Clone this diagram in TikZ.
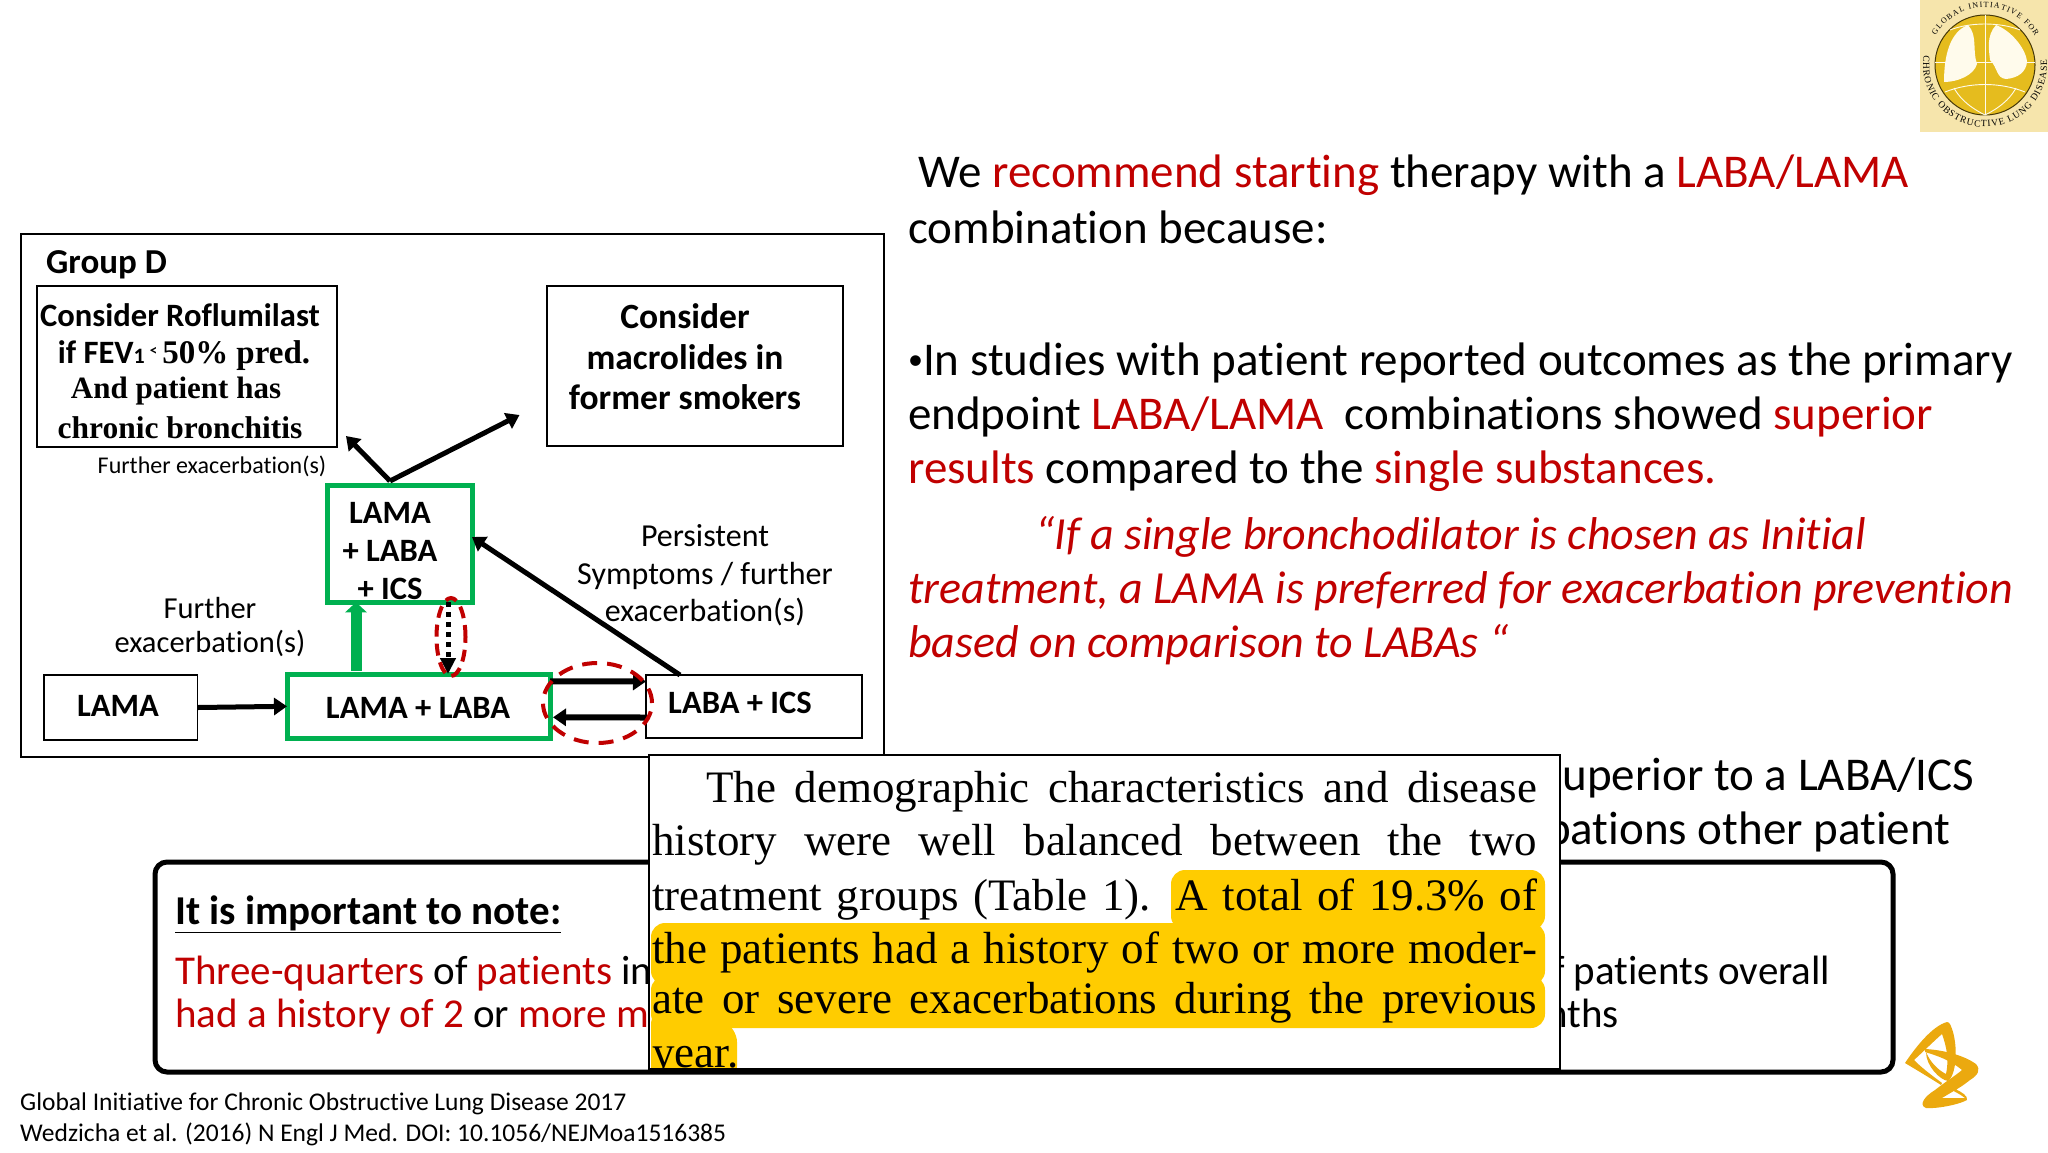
\documentclass[tikz,border=0pt]{standalone}
\usepackage{fontspec}
\setmainfont[Ligatures=NoCommon]{Carlito}
\newfontfamily\paperfont{Liberation Serif}
\usetikzlibrary{arrows.meta, positioning, shapes.geometric, decorations.text}
\definecolor{goldred}{HTML}{C00000}
\definecolor{boxgreen}{HTML}{00B050}
\definecolor{markyellow}{HTML}{FFCC00}
\definecolor{azgold}{HTML}{EBA90F}
\definecolor{logopale}{HTML}{F6E5AC}
\definecolor{logoyellow}{HTML}{E5BC1E}
\definecolor{lungwhite}{HTML}{FFFBEC}
\newcommand{\rd}[1]{\textcolor{goldred}{#1}}
\newcommand{\fs}[1]{\fontsize{#1}{#1}\selectfont}

\begin{document}
\begin{tikzpicture}[x=1pt, y=-1pt,
  plainbox/.style={draw=black, line width=1.8pt, inner sep=0pt, outer sep=0pt},
  greenbox/.style={draw=boxgreen, line width=5pt, inner sep=0pt, outer sep=0pt},
  boxtext/.style={inner sep=0pt, align=center, font=\fs{32.6}\bfseries},
  flowtext/.style={inner sep=0pt, align=center, font=\fs{30.5}},
  bigline/.style={inner sep=0pt, anchor=base west, font=\fs{47}},
  bigitalic/.style={bigline, font=\fs{46}\itshape},
  noteline/.style={inner sep=0pt, anchor=base west, font=\fs{41}},
  paperline/.style={inner sep=0pt, anchor=base west, font=\paperfont\fs{45}},
  markband/.style={fill=markyellow, rounded corners=14pt},
  blackarrow/.style={line width=5pt, -{Triangle[length=13pt,width=17pt]}},
  redring/.style={draw=goldred, line width=4pt, ellipse, inner sep=0pt, outer sep=0pt},
]
\useasboundingbox (0,0) rectangle (2048,1152);
% --- Group D frame ---
\node[plainbox, minimum width=863pt, minimum height=523pt, line width=2.2pt] (frame) at (452.5,495.5) {};
\node[inner sep=0pt, anchor=base west, font=\fs{35}\bfseries] (groupd) at (46,273) {Group D};
\node[plainbox, minimum width=300pt, minimum height=161pt] (roflu) at (187,366.5) {};
\node[inner sep=0pt, font=\fs{32.6}\bfseries] (roflua) at (180,315) {Consider Roflumilast};
\node[inner sep=0pt, font=\fs{32.6}\bfseries] (rofluv) at (184,356) {if FEV\fs{22}1 \raisebox{8pt}{\fs{15}<} \paperfont\fs{33}50\% pred.};
\node[inner sep=0pt, font=\paperfont\fs{31}\bfseries] (roflub) at (176,391) {And patient has};
\node[inner sep=0pt, font=\paperfont\fs{31.5}\bfseries] (rofluc) at (180,428) {chronic bronchitis};
\node[plainbox, minimum width=296.5pt, minimum height=160pt] (macro) at (695,366) {};
\node[boxtext, font=\fs{35.5}\bfseries] (macrot) at (685,357) {Consider\\[5pt]macrolides in\\[5pt]former smokers};
\node[inner sep=0pt, font=\fs{24}] (furthertop) at (212,466) {Further exacerbation(s)};
% --- boxes ---
\node[greenbox, minimum width=145pt, minimum height=116.5pt] (triple) at (399.5,544) {};
\node[boxtext] (triplet) at (390,551) {LAMA\\[5pt]+ LABA\\[5pt]+ ICS};
\node[plainbox, minimum width=153.5pt, minimum height=65pt] (lama) at (120.8,707.5) {};
\node[boxtext] (lamat) at (118,706) {LAMA};
\node[greenbox, minimum width=263pt, minimum height=64.5pt] (dual) at (418.5,706.3) {};
\node[boxtext] (dualt) at (418,708) {LAMA + LABA};
\node[plainbox, minimum width=216pt, minimum height=63pt] (labaics) at (754,706.5) {};
\node[boxtext] (labaicst) at (740,702.5) {LABA + ICS};
\node[flowtext] (further) at (210,627) {Further\\[3.5pt]exacerbation(s)};
\node[flowtext, font=\fs{32}] (persist) at (705,575.5) {Persistent\\[5.5pt]Symptoms / further\\[5.5pt]exacerbation(s)};
% --- connectors ---
\coordinate (fork) at (390,481);
\coordinate (forkleft) at (346,436);
\coordinate (forkright) at (519.5,415);
\draw[blackarrow] (fork) -- (forkleft);
\draw[blackarrow] (fork) -- (forkright);
\draw[blackarrow] ([xshift=34pt]labaics.north west) -- ([yshift=7pt]triple.east);
\draw[blackarrow] (lama.east) -- (dual.west);
\draw[blackarrow, line width=6pt] ([yshift=25pt]dual.east) -- ([yshift=25pt]labaics.west);
\draw[blackarrow, line width=6pt] ([yshift=-11pt]labaics.west) -- ([yshift=-11pt,xshift=3pt]dual.east);
\draw[boxgreen, line width=11pt, -{Triangle[length=10pt,width=21pt]}] ([xshift=-62.5pt,yshift=3pt]dual.north) -- ([xshift=-43.5pt]triple.south);
\draw[line width=5pt, dash pattern=on 5pt off 5pt, -{Triangle[length=16pt,width=15pt]}] ([xshift=48.5pt]triple.south) -- ([xshift=29.5pt]dual.north);
\node[redring, minimum width=29pt, minimum height=78pt, dash pattern=on 12pt off 7pt] (ringtop) at (451,637) {};
\node[redring, minimum width=109pt, minimum height=80pt, dash pattern=on 15pt off 10pt] (ringside) at (597.5,703) {};
% --- right text ---
\node[bigline] (ra) at (918,187) {We \rd{recommend starting} therapy with a \rd{LABA/LAMA}};
\node[bigline] (rb) at (908,243) {combination because:};
\node[bigline] (rc) at (908,375) {\raisebox{6pt}{\fs{30}•}In studies with patient reported outcomes as the primary};
\node[bigline] (rd) at (908,429) {endpoint \rd{LABA/LAMA} \ combinations showed \rd{superior}};
\node[bigline] (re) at (908,483) {\rd{results} compared to the \rd{single substances.}};
\node[bigitalic] (rf) at (1035,549) {\rd{“If a single bronchodilator is chosen as Initial}};
\node[bigitalic] (rg) at (908,603) {\rd{treatment, a LAMA is preferred for exacerbation prevention}};
\node[bigitalic] (rh) at (908,657) {\rd{based on comparison to LABAs “}};
\node[bigline] (ri) at (1544,790) {superior to a LABA/ICS};
\node[bigline] (rj) at (1546,844) {bations other patient};
% --- note box ---
\node[draw=black, line width=5pt, rounded corners=12pt, minimum width=1738pt, minimum height=210pt, inner sep=0pt, outer sep=0pt] (note) at (1024,967) {};
\node[noteline, font=\fs{41}\bfseries] (nhead) at (175,924) {\underline{It is important to note:}};
\node[noteline] (na) at (175,984) {\rd{Three-quarters} of \rd{patients} in};
\node[noteline] (nb) at (175,1027) {\rd{had a history of 2} or \rd{more m}};
\node[noteline] (nc) at (1552,984) {f patients overall};
\node[noteline] (nd) at (1546,1027) {nths};
% --- paper clipping ---
\node[draw=black, line width=1.6pt, fill=white, minimum width=911.5pt, minimum height=314pt, inner sep=0pt, outer sep=0pt] (paper) at (1104.5,912) {};
\begin{scope}
\clip (paper.north west) rectangle (paper.south east);
\fill[markband] (1171,870) rectangle (1545,930);
\fill[markband] (651,923) rectangle (1545,985);
\fill[markband] (651,976) rectangle (1545,1028);
\fill[markband] (651,1010) -- (651,1080) -- (737,1080) -- (737,1028) -- (700,1010) -- cycle;
\node[paperline] (pa) at (706,802) {\makebox[831pt][s]{The demographic characteristics and disease}};
\node[paperline] (pb) at (652,855) {\makebox[885pt][s]{history were well balanced between the two}};
\node[paperline] (pc) at (652,910) {\makebox[885pt][s]{treatment groups (Table 1). A total of 19.3\% of}};
\node[paperline] (pd) at (652,963) {\makebox[885pt][s]{the patients had a history of two or more moder-}};
\node[paperline] (pe) at (652,1013) {\makebox[885pt][s]{ate or severe exacerbations during the previous}};
\node[paperline] (pf) at (652,1067) {year.};
\end{scope}
\draw[line width=1.6pt] (paper.north west) rectangle (paper.south east);
% --- footer ---
\node[inner sep=0pt, anchor=base west, font=\fs{25.5}] (fa) at (20,1110) {Global Initiative for Chronic Obstructive Lung Disease 2017};
\node[inner sep=0pt, anchor=base west, font=\fs{25.5}] (fb) at (20,1141) {Wedzicha et al. (2016) N Engl J Med. DOI: 10.1056/NEJMoa1516385};
% --- GOLD logo ---
\fill[logopale] (1920,0) rectangle (2048,132);
\fill[logoyellow, draw=black!70!logoyellow, line width=1pt] (1985,65) circle (50);
\fill[lungwhite] (1968,25) .. controls (1950,32) and (1944,55) .. (1944,82) .. controls (1958,82) and (1974,75) .. (1977,64) .. controls (1972,50) and (1978,36) .. (1968,25) -- cycle;
\fill[lungwhite] (1996,25) .. controls (1986,36) and (1989,50) .. (1990,60) .. controls (1998,68) and (1996,78) .. (2006,79) .. controls (2018,78) and (2026,72) .. (2027,62) .. controls (2026,48) and (2010,30) .. (1996,25) -- cycle;
\draw[lungwhite, line width=0.9pt] (1985,15) -- (1985,115) (1935,62) -- (2035,62);
\draw[lungwhite, line width=0.9pt] (1950,30) .. controls (1970,22) and (2000,22) .. (2020,30);
\draw[lungwhite, line width=0.9pt] (1945,92) .. controls (1970,82) and (2000,82) .. (2025,92);
\draw[lungwhite, line width=0.9pt] (1985,115) .. controls (1965,105) and (1958,95) .. (1954,88);
\draw[lungwhite, line width=0.9pt] (1985,115) .. controls (2005,105) and (2012,95) .. (2016,88);
\begin{scope}[y=1pt]
\clip (1920,0) rectangle (2048,-132);
\path[decorate, decoration={text along path, text align={fit to path},
  text={|\paperfont\fs{8}|GLOBAL INITIATIVE FOR}}]
  (1935.6,-35.3) arc[start angle=149, end angle=30, radius=57.6pt];
\path[decorate, decoration={text along path, text align={fit to path},
  text={|\paperfont\fs{9.5}|CHRONIC OBSTRUCTIVE LUNG DISEASE}}]
  (1923.8,-55.3) arc[start angle=171, end angle=365, radius=62pt];
\end{scope}
% --- AZ logo ---
\fill[azgold] (1947,1022) .. controls (1932,1026) and (1915,1048) .. (1905,1063) .. controls (1920,1072) and (1930,1078) .. (1941,1085) -- (1942,1083) .. controls (1930,1074) and (1922,1068) .. (1914,1060) .. controls (1925,1050) and (1935,1040) .. (1942,1034) .. controls (1947,1048) and (1949,1060) .. (1946,1074) .. controls (1938,1070) and (1930,1062) .. (1926,1052) .. controls (1926,1066) and (1940,1080) .. (1948,1081) .. controls (1956,1075) and (1958,1050) .. (1953,1032) .. controls (1951,1026) and (1950,1022) .. (1947,1022) -- cycle;
\fill[azgold] (1925,1049) .. controls (1945,1050) and (1965,1056) .. (1976,1064) .. controls (1981,1070) and (1978,1075) .. (1970,1080) .. controls (1960,1088) and (1955,1090) .. (1942,1098) .. controls (1950,1098) and (1958,1098) .. (1965,1098) .. controls (1960,1094) and (1955,1092) .. (1952,1090) -- (1955,1089) .. controls (1962,1092) and (1968,1096) .. (1967,1100) .. controls (1958,1105) and (1935,1109) .. (1926,1108) .. controls (1918,1105) and (1925,1096) .. (1935,1090) .. controls (1945,1082) and (1955,1076) .. (1962,1070) .. controls (1950,1060) and (1938,1056) .. (1925,1052) -- cycle;
\end{tikzpicture}
\end{document}
